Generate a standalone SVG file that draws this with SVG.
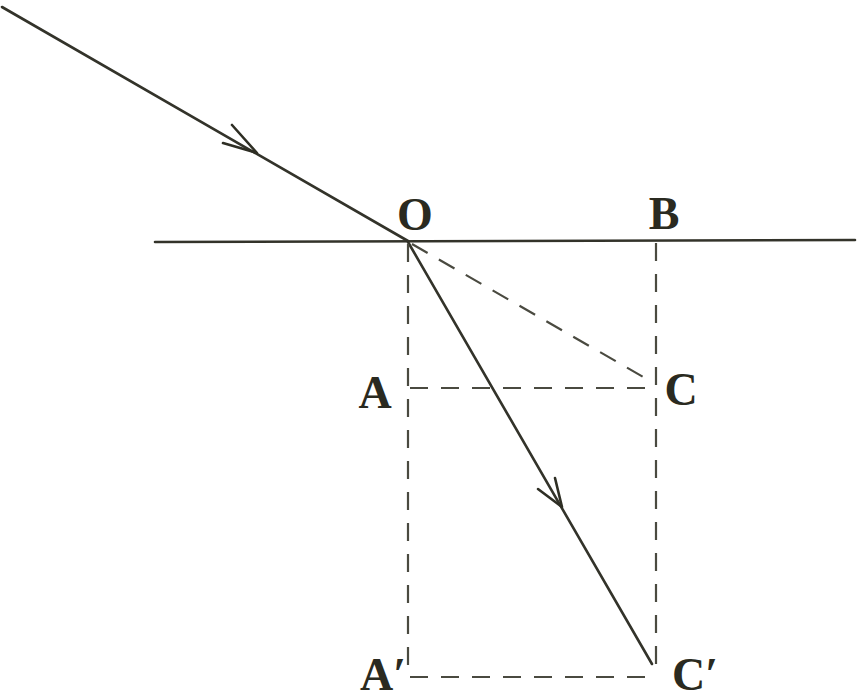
<svg xmlns="http://www.w3.org/2000/svg" width="860" height="699" viewBox="0 0 860 699">
<style>
.solid{stroke:#33332a;stroke-width:2.6;fill:none;stroke-linecap:round}
.dash{stroke:#4a4a40;stroke-width:2.2;fill:none;stroke-dasharray:18 13}
.arrow{stroke:#2e2e24;stroke-width:2.6;fill:none;stroke-linecap:round;stroke-linejoin:round}
.lbl{font-family:"Liberation Serif","Times New Roman",serif;font-weight:bold;font-size:46px;fill:#2a2a20}
</style>
<rect width="860" height="699" fill="#ffffff"/>
<g id="connectors">
<line class="solid" x1="155" y1="242" x2="855" y2="240"/>
<line class="solid" x1="2" y1="7" x2="408" y2="241"/>
<line class="solid" x1="408" y1="242" x2="652" y2="664"/>
<line class="dash" x1="408" y1="244" x2="408" y2="678"/>
<line class="dash" x1="656" y1="243" x2="656" y2="677"/>
<line class="dash" x1="412" y1="244" x2="652" y2="382"/>
<line class="dash" x1="410" y1="388" x2="655" y2="388"/>
<line class="dash" x1="410" y1="677" x2="655" y2="677"/>
<path class="arrow" d="M232,125 L257,153 L223,143"/>
<path class="arrow" d="M555,478 L562,507 L538,489"/>
</g>
<g id="node-O"><text class="lbl" x="415" y="230" text-anchor="middle">O</text></g>
<g id="node-B"><text class="lbl" x="664" y="229" text-anchor="middle">B</text></g>
<g id="node-A"><text class="lbl" x="375" y="408" text-anchor="middle">A</text></g>
<g id="node-C"><text class="lbl" x="681" y="405" text-anchor="middle">C</text></g>
<g id="node-A2"><text class="lbl" x="360" y="690">A′</text></g>
<g id="node-C2"><text class="lbl" x="672" y="690">C′</text></g>
</svg>
